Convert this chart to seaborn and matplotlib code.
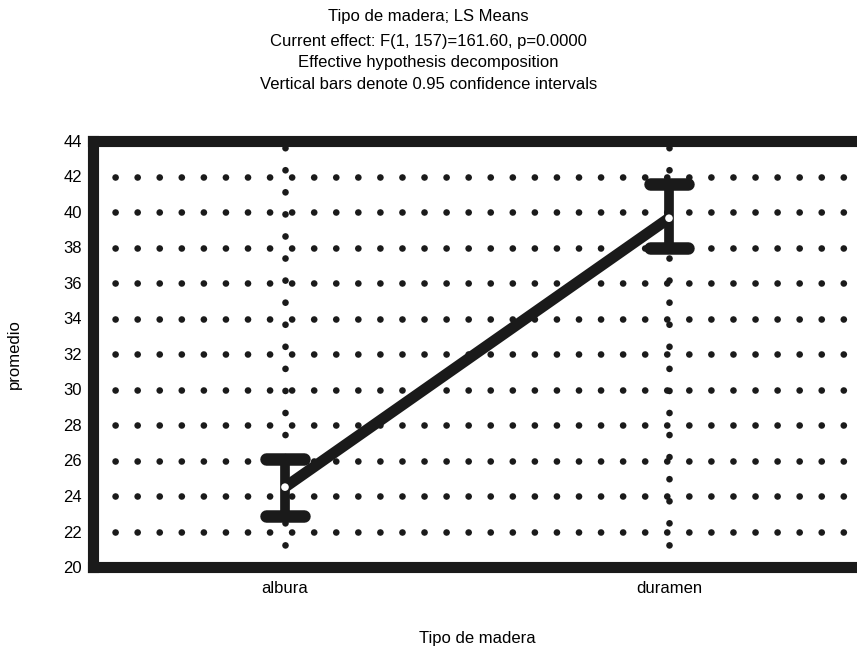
import numpy as np
import pandas as pd
import matplotlib
matplotlib.use("Agg")
import matplotlib.pyplot as plt
from matplotlib.markers import MarkerStyle
import seaborn as sns

# LS means and 95% CI limits
categories = ["albura", "duramen"]
means = [24.5, 39.65]
ci_low = [22.9, 38.0]
ci_high = [26.1, 41.55]

titles = [
    "Tipo de madera; LS Means",
    "Current effect: F(1, 157)=161.60, p=0.0000",
    "Effective hypothesis decomposition",
    "Vertical bars denote 0.95 confidence intervals",
]

sns.set_style("white")
plt.rcParams["font.family"] = ["Liberation Sans", "DejaVu Sans"]
plt.rcParams["text.color"] = "black"
plt.rcParams["xtick.color"] = "black"
plt.rcParams["ytick.color"] = "black"
plt.rcParams["axes.labelcolor"] = "black"

df = pd.DataFrame({"pos": np.arange(len(categories)), "mean": means})

fig = plt.figure(figsize=(8.57, 6.53), dpi=100)
ax = fig.add_axes([93 / 857, 1 - 567 / 653, (861 - 93) / 857, (567 - 141) / 653])

# dotted grid with round dots
ink = "#1a1a1a"
dot = dict(color=ink, linewidth=4.8, linestyle=(0, (0.01, 3.3)),
           dash_capstyle="round", zorder=1)
for y in range(22, 44, 2):
    ax.axhline(y, **dot)
for x in df["pos"]:
    ax.axvline(x, **dot)

sns.lineplot(data=df, x="pos", y="mean", ax=ax, color=ink,
             linewidth=8, zorder=3, solid_capstyle="butt")

err = np.array([np.array(means) - np.array(ci_low), np.array(ci_high) - np.array(means)])
eb = ax.errorbar(df["pos"], means, yerr=err, fmt="none", ecolor=ink,
                 elinewidth=7, capsize=14, capthick=9, zorder=4)
for cap in eb[1]:
    cap.set_marker(MarkerStyle("_", capstyle="round"))
for c in eb[2]:
    c.set_capstyle("butt")

ax.scatter(df["pos"], means, s=30, color="white", edgecolor="none", zorder=5)

ax.set_xlim(-0.5, 1.5)
ax.set_ylim(20, 44)
ax.set_yticks(range(20, 46, 2))
ax.set_xticks(df["pos"])
ax.set_xticklabels(categories)
ax.tick_params(axis="both", length=0, labelsize=12, pad=10)
ax.tick_params(axis="y", pad=8)
for s in ax.spines.values():
    s.set_linewidth(8)
    s.set_color(ink)
    s.set_visible(True)

ax.set_xlabel("Tipo de madera", fontsize=12, labelpad=25)
ax.set_ylabel("promedio", fontsize=12, labelpad=30)

fig.text(0.5, 1 - 16 / 653, titles[0], ha="center", va="center", fontsize=12)
for i, t in enumerate(titles[1:]):
    fig.text(0.5, 1 - (41.5 + 21.5 * i) / 653, t, ha="center", va="center", fontsize=12)

fig.savefig("out.png", dpi=100)
